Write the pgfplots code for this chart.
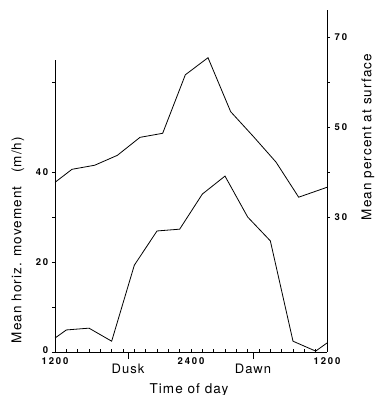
\documentclass[border=0pt]{standalone}
\usepackage{fontspec}
\setmainfont{TeX Gyre Heros}
\newfontfamily\tickfont[LetterSpace=20]{TeX Gyre Heros}
\newfontfamily\labfont[LetterSpace=8]{TeX Gyre Heros}
\usepackage{pgfplots}
\pgfplotsset{compat=1.18}
\begin{document}
\begin{tikzpicture}
\path[use as bounding box] (-55pt,-43pt) rectangle (321pt,352pt);
\pgfplotsset{
  common/.style={scale only axis, width=272pt, xmin=0, xmax=24,
    ymin=0, clip=false, line width=0.8pt,
    every tick/.style={black, line width=0.6pt},
    tick label style={font=\tickfont\bfseries\fontsize{9.5}{11}\selectfont},
    major tick length=3pt, minor tick length=2.5pt}
}
% x axis
\begin{axis}[common, height=342pt, ymax=76,
  axis y line=none, axis x line*=bottom,
  xtick={0,12,24}, xticklabels={1200,2400,1200},
  minor xtick={1,...,23},
  tick align=inside,
  xticklabel style={yshift=-2pt},
  extra x ticks={6.44,17.47},
  extra x tick labels={Dusk,Dawn},
  extra x tick style={tick align=outside, major tick length=7pt,
    tick label style={font=\labfont\fontsize{13}{15}\selectfont, yshift=1pt}},
]
\end{axis}
% right axis with percent at surface
\begin{axis}[common, height=342pt, ymax=76,
  axis x line=none, axis y line*=right,
  ytick={30,50,70}, yticklabels={30,50,70},
  minor ytick={40,60},
  tick align=outside,
  yticklabel style={xshift=1pt},
]
\addplot[black, line width=0.8pt] coordinates {
 (0,37.7) (1.5,40.6) (3.5,41.5) (5.5,43.7) (7.5,47.7) (9.5,48.6)
 (11.5,61.6) (13.5,65.4) (15.5,53.4) (17.5,47.9) (19.5,42.2)
 (21.5,34.4) (24,36.6)};
\end{axis}
% left axis with horizontal movement
\begin{axis}[common, height=292pt, ymax=64.9,
  axis x line=none, axis y line*=left,
  ytick={0,20,40}, yticklabels={\raisebox{3pt}{0},20,40},
  minor ytick={10,30,60},
  tick align=outside,
]
\addplot[black, line width=0.8pt] coordinates {
 (0,3.1) (1,4.9) (3,5.3) (5,2.4) (7,19.3) (9,26.9) (11,27.3)
 (13,35.1) (15,39.1) (17,30.0) (19,24.7) (21,2.4) (23,0.2) (24,2.0)};
\end{axis}
\node[font=\labfont\fontsize{13.5}{15}\selectfont] at (134pt,-38pt) {Time of day};
\node[font=\labfont\fontsize{13.5}{15}\selectfont, rotate=90] at (-37pt,112pt) {Mean horiz. movement\quad(m/h)};
\node[font=\labfont\fontsize{13.5}{15}\selectfont, rotate=90] at (313pt,215pt) {Mean percent at surface};
\end{tikzpicture}
\end{document}
